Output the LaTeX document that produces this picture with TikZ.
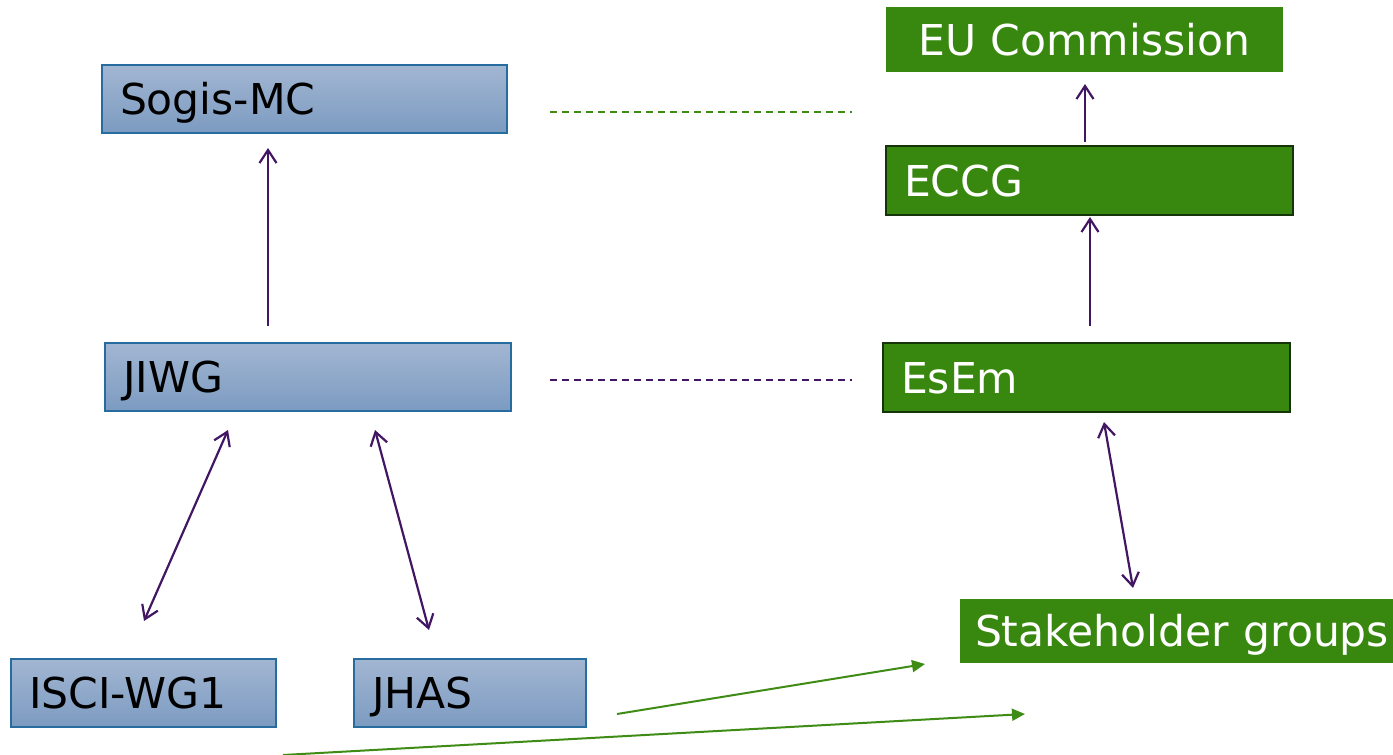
\documentclass[tikz,border=0pt]{standalone}
\usepackage{fontspec}
\setmainfont{DejaVu Sans}
\usetikzlibrary{arrows.meta}
\definecolor{bluetop}{RGB}{162,182,210}
\definecolor{bluebot}{RGB}{124,155,193}
\definecolor{blueline}{RGB}{38,108,158}
\definecolor{eugreen}{RGB}{56,135,14}
\definecolor{darkgreen}{RGB}{22,52,10}
\definecolor{linegreen}{RGB}{62,140,22}
\definecolor{linepurple}{RGB}{66,22,98}
\begin{document}
\begin{tikzpicture}[x=1pt,y=-1pt,
   box/.style={rectangle,anchor=north west,inner ysep=0pt,inner xsep=18pt,outer sep=0pt,
     text height=31pt,text depth=0pt,minimum height=68pt,align=left,
     font=\fontsize{42.5}{50}\selectfont},
   bluebox/.style={box,top color=bluetop,bottom color=bluebot,draw=blueline,line width=1.5pt},
   greenbox/.style={box,fill=eugreen,text=white},
   up/.style={draw=linepurple,line width=2.2pt,-{Straight Barb[length=13pt,width=17pt]}},
   both/.style={draw=linepurple,line width=2.2pt,{Straight Barb[length=13pt,width=17pt]}-{Straight Barb[length=13pt,width=17pt]}},
   feed/.style={draw=linegreen,line width=2pt,-{Triangle[length=13pt,width=12pt]}},
   link/.style={line width=2pt,dash pattern=on 7pt off 5pt}]
   \useasboundingbox (0,0) rectangle (1393,755);

   \node[bluebox,text width=369pt] (sogis) at (102,65) {Sogis-MC};
   \node[bluebox,text width=370pt] (jiwg) at (105,343) {JIWG};
   \node[bluebox,text width=229pt] (isci) at (11,659) {ISCI-WG1};
   \node[bluebox,text width=196pt] (jhas) at (354,659) {JHAS};

   \node[greenbox,text width=361pt,align=center,minimum height=65pt] (eu) at (886,7) {EU Commission};
   \node[greenbox,draw=darkgreen,line width=1.5pt,text width=371pt,minimum height=69pt] (eccg) at (886,146) {ECCG};
   \node[greenbox,draw=darkgreen,line width=1.5pt,text width=371pt,minimum height=69pt] (esem) at (883,343) {EsEm};
   \node[greenbox,inner xsep=15pt,text width=403pt,minimum height=64pt] (stake) at (960,599) {\mbox{Stakeholder groups}};

   \draw[up] ([shift={(163,-17)}]jiwg.north west) -- ([shift={(166,15)}]sogis.south west);
   \draw[up] ([shift={(199,-4)}]eccg.north west) -- ([shift={(199,12)}]eu.south west);
   \draw[up] ([shift={(207,-17)}]esem.north west) -- ([shift={(204,2)}]eccg.south west);

   \draw[both] ([shift={(123,19)}]jiwg.south west) -- ([shift={(133,-38)}]isci.north west);
   \draw[both] ([shift={(270,19)}]jiwg.south west) -- ([shift={(75,-29)}]jhas.north west);
   \draw[both] ([shift={(221,10)}]esem.south west) -- ([shift={(173,-11)}]stake.north west);

   \draw[feed] ([shift={(31,-13)}]jhas.south east) -- ([shift={(-35,1)}]stake.south west);
   \draw[feed] ([shift={(272,28)}]isci.south west) -- ([shift={(65,51)}]stake.south west);

   \draw[link,linegreen] ([shift={(43,-21)}]sogis.south east) -- ([shift={(-34,40)}]eu.south west);
   \draw[link,linepurple] ([shift={(39,-31)}]jiwg.south east) -- ([shift={(-31,-32)}]esem.south west);
  \end{tikzpicture}
\end{document}
